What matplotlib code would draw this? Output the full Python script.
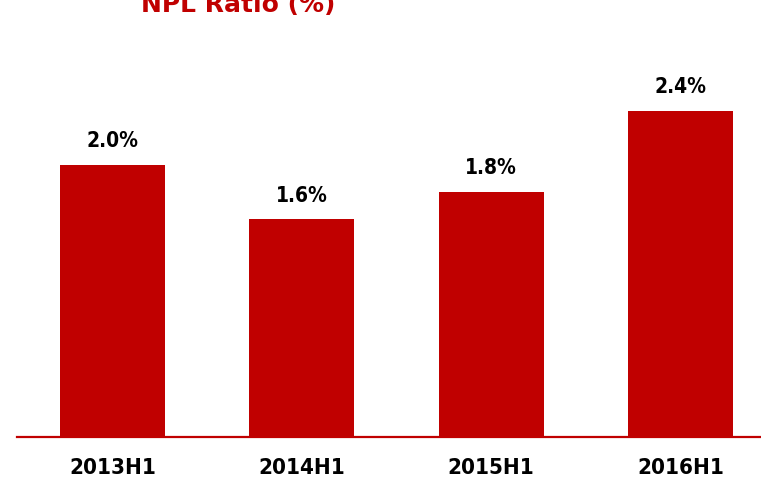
import matplotlib
matplotlib.use("Agg")
import matplotlib.pyplot as plt

categories = ["2013H1", "2014H1", "2015H1", "2016H1"]
values = [2.0, 1.6, 1.8, 2.4]
value_labels = ["2.0%", "1.6%", "1.8%", "2.4%"]
title = "NPL Ratio (%)"

fig = plt.figure(figsize=(7.61, 4.80), dpi=100)
ax = fig.add_axes([17/761, 43/480, 744/761, 397/480])
red = "#C00000"
x = range(len(categories))
ax.bar(x, values, width=0.555, color=red)
ax.set_xlim(-0.504, 3.425)
ax.set_ylim(0, 397/136)
for xi, v, lab in zip(x, values, value_labels):
    ax.annotate(lab, (xi, v), xytext=(0, 10), textcoords="offset points",
                ha="center", va="bottom", fontsize=15, fontweight="bold",
                color="#000000", family="DejaVu Sans", fontstretch="condensed")
for s in ["top", "right", "left"]:
    ax.spines[s].set_visible(False)
ax.spines["bottom"].set_color(red)
ax.spines["bottom"].set_linewidth(1.6)
ax.set_yticks([])
ax.set_xticks(list(x))
ax.set_xticklabels(categories, fontsize=16, fontweight="bold", family="DejaVu Sans",
                   fontstretch="condensed", color="#000000")
ax.tick_params(axis="x", length=0, pad=15)
fig.text(238/761, 1 - 5/480, title, ha="center", va="center", fontsize=18,
         fontweight="bold", color=red, family="DejaVu Sans")
fig.savefig("out.png", dpi=100)
